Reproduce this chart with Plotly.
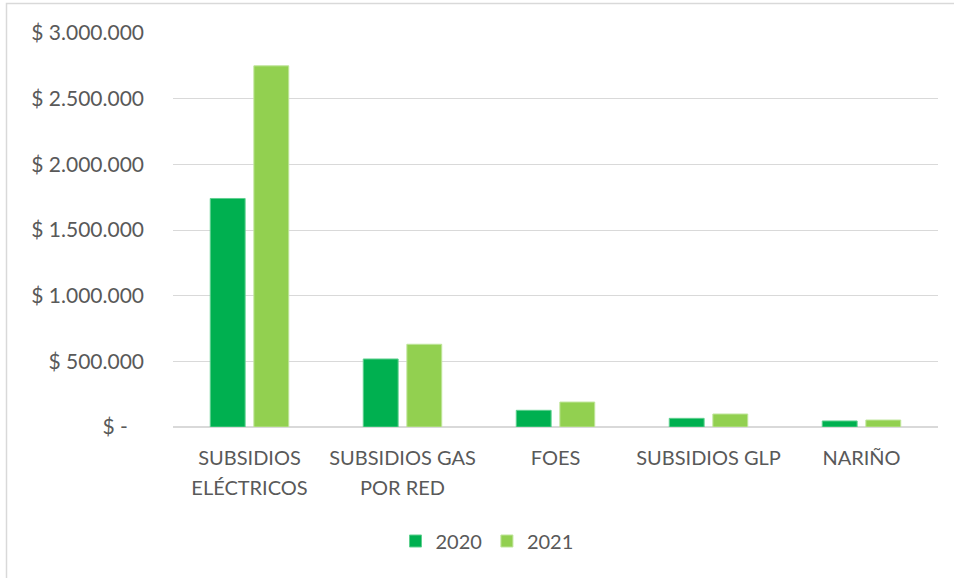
import plotly.graph_objects as go

categories = ["SUBSIDIOS<br>ELÉCTRICOS", "SUBSIDIOS GAS<br>POR RED", "FOES", "SUBSIDIOS GLP", "NARIÑO"]
values_2020 = [1740000, 518000, 127000, 66000, 46000]
values_2021 = [2750000, 630000, 190000, 99000, 53000]
tick_vals = [0, 500000, 1000000, 1500000, 2000000, 2500000, 3000000]
tick_text = ["$ -\u00a0\u00a0\u00a0", "$ 500.000", "$ 1.000.000", "$ 1.500.000",
             "$ 2.000.000", "$ 2.500.000", "$ 3.000.000"]

FONT = "Lato"
TXT = "#595959"

fig = go.Figure()
fig.add_trace(go.Bar(name="2020", x=categories, y=values_2020,
                     marker=dict(color="#00B050", line=dict(color="#5fd08f", width=1))))
fig.add_trace(go.Bar(name="2021", x=categories, y=values_2021,
                     marker=dict(color="#92D050", line=dict(color="#bfe59a", width=1))))

L, R, T, B = 173, 16, 33, 151
W, H = 954, 578
pw, ph = W - L - R, H - T - B

def px(x):
    return (x - L) / pw

def py(y):
    return (H - B - y) / ph

x_ticktext = ['<span style="font-size:20px">' + c + '</span>' for c in categories]

fig.update_layout(
    width=W, height=H,
    margin=dict(l=L, r=R, t=T, b=B, pad=0),
    paper_bgcolor="white", plot_bgcolor="white",
    font=dict(family=FONT, size=20, color=TXT),
    barmode="group", bargap=0.43, bargroupgap=0.2,
    showlegend=True,
    legend=dict(orientation="h", x=px(487), xanchor="center", y=py(541), yanchor="middle",
                font=dict(size=20, color=TXT), itemwidth=30, traceorder="normal",
                bgcolor="rgba(0,0,0,0)"),
    xaxis=dict(showgrid=False, showline=False, zeroline=False, ticks="",
               tickmode="array", tickvals=categories, ticktext=x_ticktext,
               tickfont=dict(size=23, color=TXT), ticklabelstandoff=14, fixedrange=True),
    yaxis=dict(range=[0, 3000000], tickvals=tick_vals, ticktext=tick_text,
               showgrid=True, gridcolor="#D9D9D9", gridwidth=1.3,
               zeroline=True, zerolinecolor="#D9D9D9", zerolinewidth=1.5,
               showline=False, ticks="", ticklabelstandoff=28,
               tickfont=dict(size=21, color=TXT)),
    shapes=[dict(type="rect", xref="paper", yref="paper",
                 x0=px(6.5), x1=px(960), y0=py(3.5), y1=py(585),
                 line=dict(color="#D9D9D9", width=1.5), layer="below")],
)

fig.write_html("out.html", config={"displayModeBar": False},
               post_script="document.body.style.margin='0';document.body.style.overflow='hidden';")
